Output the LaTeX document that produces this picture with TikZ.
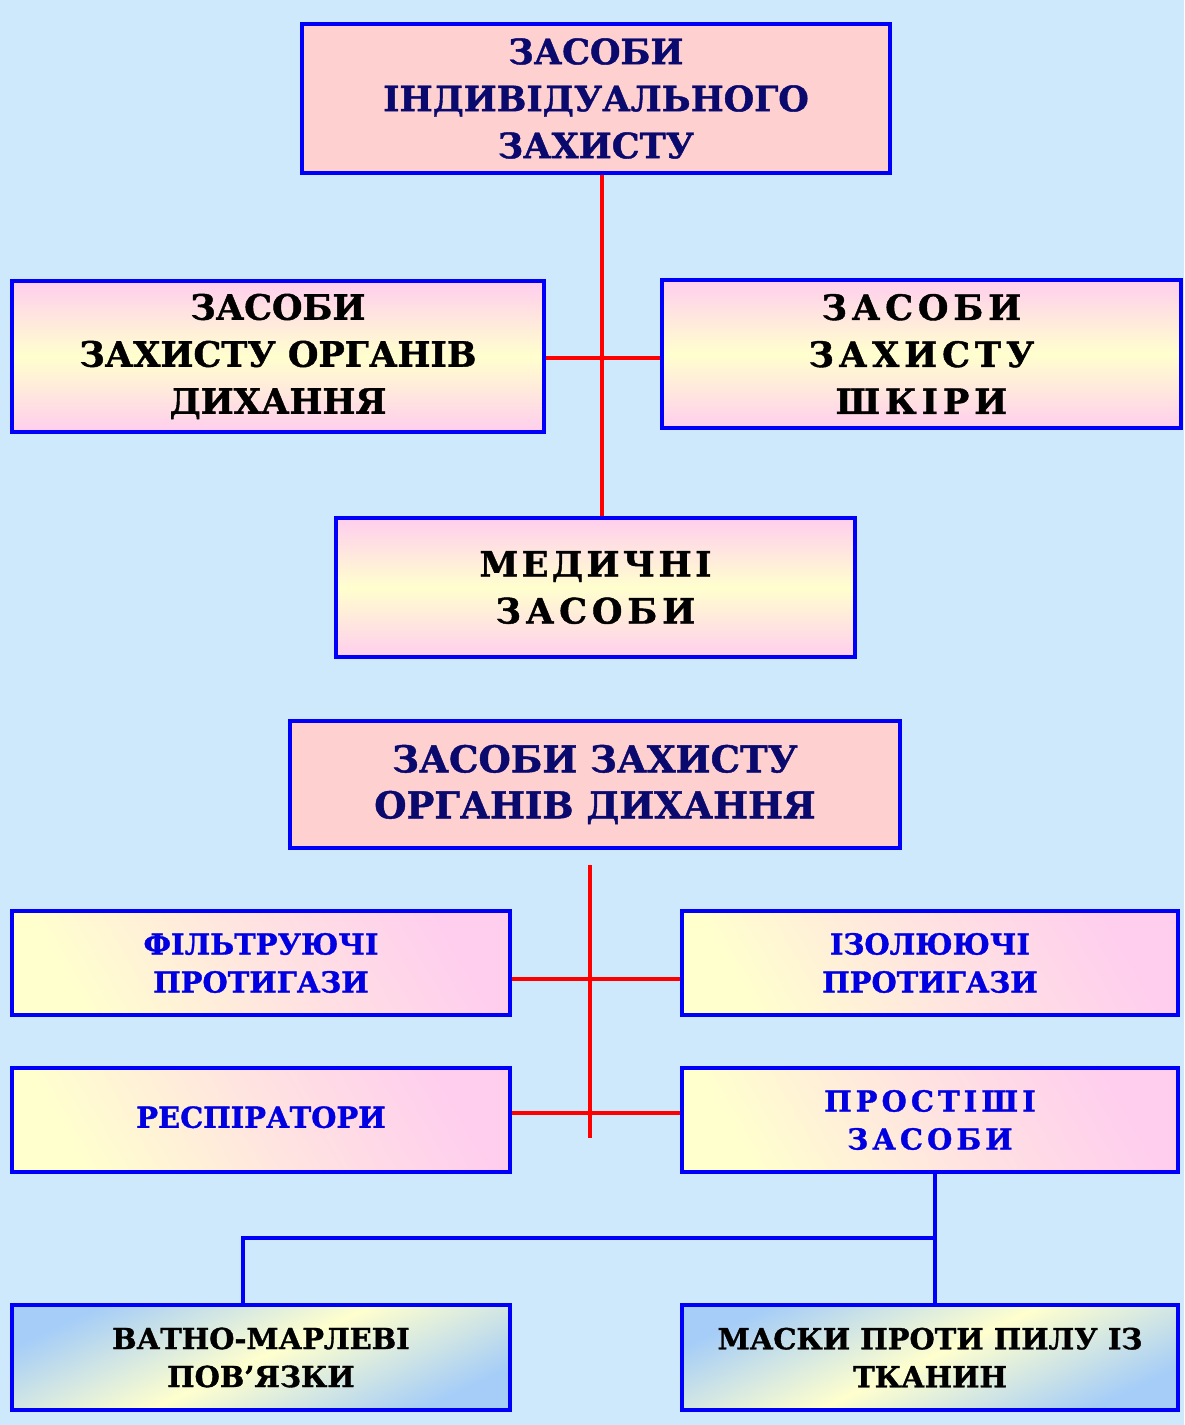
\documentclass[tikz,border=0pt]{standalone}
\usepackage{fontspec}
\setmainfont{DejaVu Serif}[BoldFeatures={FakeBold=1.2}]
\usetikzlibrary{calc}
\definecolor{bgc}{RGB}{206,232,252}
\definecolor{pinkA}{RGB}{255,208,208}
\definecolor{pk}{RGB}{255,206,238}
\definecolor{yl}{RGB}{255,255,206}
\definecolor{bl}{RGB}{165,205,248}
\definecolor{navy}{RGB}{10,10,110}
\definecolor{bbord}{RGB}{0,0,250}
\definecolor{txtblue}{RGB}{0,0,225}
\definecolor{redl}{RGB}{255,0,0}
\tikzset{
  box/.style={draw=bbord, line width=2pt, align=center, inner sep=0pt, font=\bfseries},
  solidpink/.style={box, fill=pinkA},
  pyv/.style={box, top color=pk, bottom color=pk, middle color=yl},
  pyd/.style={box, top color=pk, bottom color=yl, middle color=pk!55!yl, shading angle=-60},
  byd/.style={box, top color=bl, bottom color=bl, middle color=yl, shading angle=25},
  redline/.style={draw=redl, line width=2pt},
  blueline/.style={draw=bbord, line width=1.6pt},
  bigtxt/.style={font=\bfseries\fontsize{17.5}{23.5}\selectfont},
  smtxt/.style={font=\bfseries\fontsize{14.5}{19}\selectfont},
}
\newcommand{\spc}[1]{{\addfontfeature{LetterSpace=14}#1}}
\newcommand{\spcs}[1]{{\addfontfeature{LetterSpace=10}#1}}
\begin{document}
\begin{tikzpicture}[x=0.5pt,y=-0.5pt]
\fill[bgc] (0,0) rectangle (1184,1425);
\useasboundingbox (0,0) rectangle (1184,1425);

% top part
\node[solidpink, bigtxt, text=navy, minimum width=294pt, minimum height=74.5pt] (top) at (596,98.5)
  {\raisebox{-2pt}{\parbox{280pt}{\centering ЗАСОБИ\\ІНДИВІДУАЛЬНОГО\\ЗАХИСТУ}}};
\node[pyv, bigtxt, text=black, minimum width=266pt, minimum height=75.5pt] (resp) at (278,356.5)
  {ЗАСОБИ\\ЗАХИСТУ ОРГАНІВ\\ДИХАННЯ};
\node[pyv, bigtxt, text=black, minimum width=259.5pt, minimum height=74pt] (skin) at (921.5,354)
  {\spc{ЗАСОБИ}\\\spc{ЗАХИСТУ}\\\spc{ШКІРИ}};
\node[pyv, bigtxt, text=black, minimum width=259.5pt, minimum height=69.5pt] (med) at (595.5,587.5)
  {\spcs{МЕДИЧНІ}\\\spc{ЗАСОБИ}};

\draw[redline] ([xshift=3pt]top.south) -- ([xshift=3pt]top.south |- med.north);
\draw[redline] ([yshift=-0.5pt]resp.east) -- ([yshift=-0.5pt]resp.east -| skin.west);

% second part
\node[solidpink, font=\bfseries\fontsize{18.5}{23}\selectfont, text=navy, minimum width=305pt, minimum height=63.5pt] (t2) at (595,784.5)
  {ЗАСОБИ ЗАХИСТУ\\ОРГАНІВ ДИХАННЯ};
\node[pyd, smtxt, text=txtblue, minimum width=249pt, minimum height=52pt] (filt) at (261,963)
  {ФІЛЬТРУЮЧІ\\ПРОТИГАЗИ};
\node[pyd, smtxt, text=txtblue, minimum width=248pt, minimum height=52pt] (iso) at (930,963)
  {ІЗОЛЮЮЧІ\\ПРОТИГАЗИ};
\node[pyd, smtxt, text=txtblue, minimum width=249pt, minimum height=52pt] (rsp) at (261,1120)
  {\raisebox{3pt}{РЕСПІРАТОРИ}};
\node[pyd, smtxt, text=txtblue, minimum width=248pt, minimum height=52pt] (simp) at (930,1120)
  {\spc{ПРОСТІШІ}\\\spc{ЗАСОБИ}};
\node[byd, smtxt, text=black, minimum width=249pt, minimum height=52.5pt] (cot) at (261,1357.5)
  {ВАТНО-МАРЛЕВІ\\ПОВ'ЯЗКИ};
\node[byd, smtxt, text=black, minimum width=248pt, minimum height=52.5pt] (mask) at (930,1357.5)
  {МАСКИ ПРОТИ ПИЛУ ІЗ\\ТКАНИН};

\coordinate (sp1) at (590,865);
\coordinate (sp2) at (590,1138);
\draw[redline] (sp1) -- (sp2);
\draw[redline] ([yshift=-8pt]filt.east) -- ([yshift=-8pt]filt.east -| iso.west);
\draw[redline] ([yshift=3.5pt]rsp.east) -- ([yshift=3.5pt]rsp.east -| simp.west);

% blue connectors
\coordinate (jn) at (935,1238);
\draw[blueline] ([xshift=2.5pt]simp.south) -- ([xshift=2.5pt]simp.south |- mask.north);
\draw[blueline] (jn) -| ([xshift=-9pt]cot.north);
\end{tikzpicture}
\end{document}
